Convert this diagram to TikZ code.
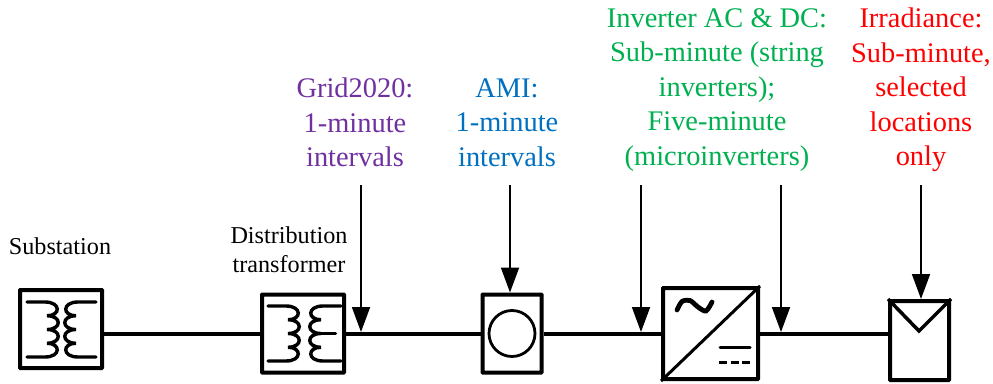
\documentclass[tikz,border=0pt]{standalone}
\usepackage{fontspec}
\setmainfont{Liberation Serif}
\usetikzlibrary{arrows.meta}
\definecolor{gridpurple}{HTML}{7030A0}
\definecolor{amiblue}{HTML}{0070C0}
\definecolor{invgreen}{HTML}{00B050}
\tikzset{
    devicebox/.style={draw, line width=4pt, rectangle, inner sep=0pt, rounded corners=0.5pt},
    wire/.style={line width=4pt},
    feed/.style={line width=1.8pt, -{Triangle[width=18pt,length=25pt]}},
    biglabel/.style={align=center, inner sep=0pt, font=\fontsize{28.4}{34.5}\selectfont},
    smalllabel/.style={align=center, inner sep=0pt, font=\fontsize{24.2}{29}\selectfont},
    coil/.pic={
        \draw[line width=3.4pt, line cap=round]
            (-32,-27.5) -- (-14,-27.5) .. controls (2,-27.5) and (2,-13.75) .. (-12,-13.75)
            .. controls (3,-13.75) and (3,0) .. (-12,0)
            .. controls (3,0) and (3,13.75) .. (-12,13.75)
            .. controls (2,13.75) and (2,27.5) .. (-14,27.5) -- (-32,27.5);
    }
}
\begin{document}
\begin{tikzpicture}[x=1pt, y=-1pt]
\useasboundingbox (0,0) rectangle (993,383);

% devices along the feeder
\node[devicebox, minimum width=82pt, minimum height=78pt] (sub) at (61,329) {};
\node[devicebox, minimum width=82pt, minimum height=78pt] (dist) at (303,333.5) {};
\node[devicebox, minimum width=59pt, minimum height=78pt] (meter) at (512,333.5) {};
\node[devicebox, minimum width=95pt, minimum height=91pt] (inv) at (710.5,333.5) {};
\node[devicebox, minimum width=59pt, minimum height=79pt] (solar) at (919.5,340.5) {};

\draw[wire] (sub.east |- dist.west) -- (dist.west);
\draw[wire] (dist.east) -- (meter.west);
\draw[wire] (meter.east) -- (inv.west);
\draw[wire] (inv.east) -- (solar.west |- inv.east);

% transformer windings
\begin{scope}[shift={(61.5,329.5)}]
    \pic at (-2.5,0) {coil};
    \pic[xscale=-1] at (2.5,0) {coil};
\end{scope}
\begin{scope}[shift={(304.5,333.5)}]
    \pic at (-4.5,0) {coil};
    \pic[xscale=-1] at (4.5,0) {coil};
    \draw[line width=3.4pt, line cap=round] (16,0) -- (31,0);
\end{scope}

% meter, inverter and panel symbols
\node[draw, circle, line width=2.8pt, minimum size=46pt, inner sep=0pt] (ring) at (meter.center) {};
\draw[line width=3pt] (inv.north east) -- (inv.south west);
\draw[line width=4.8pt, line cap=round]
    plot [smooth] coordinates {(677,310) (682,301.5) (690,300.5) (698,307) (706,311) (712,302)};
\draw[line width=3pt, line cap=round] (720,347) -- (750,347);
\draw[line width=3pt, dash pattern=on 8pt off 3.5pt] (719,362) -- (751,362);
\draw[line width=3.5pt] (solar.north west) -- (919,331) -- (solar.north east);

% labels
\node[smalllabel] (sublabel) at (60,246) {Substation};
\node[smalllabel] (distlabel) at (289,250) {Distribution\\transformer};
\node[biglabel, text=gridpurple] (gridlabel) at (355,122.5) {Grid2020:\\1-minute\\intervals};
\node[biglabel, text=amiblue] (amilabel) at (507,122.5) {AMI:\\1-minute\\intervals};
\node[biglabel, text=invgreen] (invlabel) at (717,90) {Inverter AC \& DC:\\Sub-minute (string\\inverters);\\Five-minute\\(microinverters)};
\node[biglabel, text=red] (irrlabel) at (921,90) {Irradiance:\\Sub-minute,\\selected\\locations\\only};

% measurement arrows
\coordinate (gridtop) at (361,185);
\coordinate (gridtap) at (361,332);
\coordinate (amitop) at (510,185);
\coordinate (acttop) at (641,185);
\coordinate (acttap) at (641,332);
\coordinate (dcttop) at (781,185);
\coordinate (dcttap) at (781,332);
\coordinate (irrtop) at (921,185);
\draw[feed] (gridtop) -- (gridtap);
\draw[feed] (amitop) -- (amitop |- meter.north);
\draw[feed] (acttop) -- (acttap);
\draw[feed] (dcttop) -- (dcttap);
\draw[feed] (irrtop) -- (irrtop |- solar.north);
\end{tikzpicture}
\end{document}
